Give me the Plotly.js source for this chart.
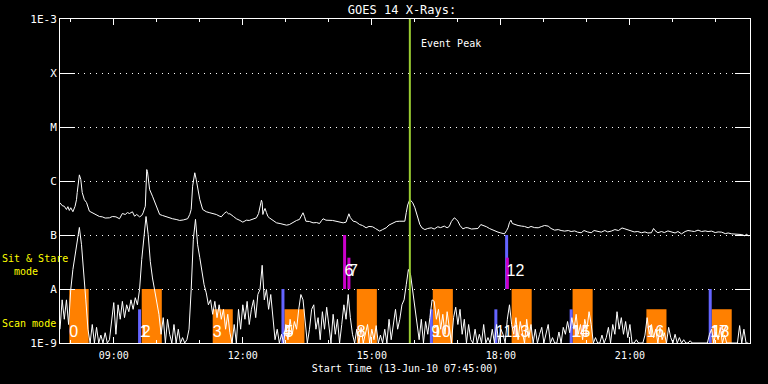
<!DOCTYPE html>
<html><head><meta charset="utf-8">
<script src="https://cdn.plot.ly/plotly-3.0.1.min.js"></script>
<style>html,body{margin:0;padding:0;background:#000;}#chart{width:768px;height:384px;}</style>
</head><body><div id="chart"></div>
<script>
// ---------------- DATA ----------------
const obsDate = '2010-06-13';
const rangeStart = '07:45';
const rangeEnd = '23:47:30';
const peakTime = '15:53';

// Y-axis ticks (GOES class letters)
const yTickVals = [1e-9, 1e-8, 1e-7, 1e-6, 1e-5, 1e-4, 1e-3];
const yTickText = ['1E-9', 'A', 'B', 'C', 'M', 'X', '1E-3'];

// Long channel (upper curve), flux W/m^2
const longTimes = [
 '07:45','07:48','07:51','07:54','07:56','07:58',
 '08:00','08:03','08:06','08:08','08:09','08:11','08:12','08:14','08:16','08:19','08:22','08:26','08:30','08:36','08:40','08:44','08:48','08:54','08:58',
 '09:03','09:06','09:08','09:12','09:16','09:19','09:22','09:26','09:29','09:32','09:36','09:39','09:41','09:44','09:45','09:46','09:47','09:49','09:50','09:54','09:57','09:59',
 '10:02','10:04','10:08','10:13','10:17','10:22','10:27','10:32','10:37','10:43','10:46','10:48','10:50','10:52','10:53','10:55','10:58',
 '11:00','11:04','11:09','11:14','11:18','11:23','11:27','11:30','11:34','11:37','11:40','11:42','11:47','11:51','11:56',
 '12:00','12:03','12:05','12:09','12:12','12:16','12:19','12:22','12:25','12:26','12:27','12:28','12:29','12:31','12:33','12:35','12:37','12:42','12:47','12:52','12:56',
 '13:01','13:05','13:10','13:15','13:19','13:22','13:24','13:26','13:28','13:33','13:38','13:43','13:47','13:50','13:52','13:56',
 '14:01','14:05','14:10','14:15','14:20','14:24','14:26','14:28','14:30','14:34','14:38','14:43','14:47','14:52','14:56',
 '15:01','15:05','15:11','15:15','15:20','15:24','15:29','15:34','15:39','15:43','15:46','15:48','15:50','15:53','15:55','15:57',
 '16:00','16:02','16:05','16:07','16:10','16:14','16:18','16:23','16:27','16:32','16:36','16:41','16:45','16:48','16:51','16:55','16:58',
 '17:00','17:03','17:07','17:11','17:14','17:19','17:23','17:28','17:32','17:36','17:40','17:44','17:47','17:52','17:56',
 '18:00','18:05','18:08','18:10','18:12','18:14','18:16','18:19','18:24','18:29','18:33','18:38','18:42','18:47','18:52','18:57',
 '19:01','19:06','19:10','19:15','19:20','19:24','19:29','19:34','19:38','19:43','19:47','19:52','19:56',
 '20:01','20:06','20:10','20:15','20:20','20:25','20:29','20:34','20:39','20:44','20:49','20:53','20:57',
 '21:02','21:06','21:11','21:16','21:21','21:25','21:30','21:33','21:35','21:39','21:44','21:48','21:53','21:58',
 '22:03','22:07','22:12','22:17','22:21','22:26','22:30','22:35','22:40','22:45','22:49','22:54','22:59',
 '23:03','23:08','23:13','23:17','23:22','23:27','23:31','23:36','23:40','23:43','23:45'
];
const longFlux = [
 3.95e-7,3.5e-7,3.4e-7,2.97e-7,3.35e-7,2.85e-7,
 3.2e-7,2.7e-7,3.4e-7,4.5e-7,6.1e-7,1.2e-6,1.3e-6,1.07e-6,6.1e-7,4.5e-7,4.0e-7,2.76e-7,2.6e-7,2.4e-7,2.2e-7,2.17e-7,2.06e-7,2.08e-7,2.2e-7,
 2.17e-7,2.1e-7,2.0e-7,2.5e-7,2.4e-7,2.6e-7,2.5e-7,2.69e-7,2.23e-7,2.4e-7,2.17e-7,2.3e-7,2.58e-7,3.41e-7,8.6e-7,1.63e-6,1.5e-6,8.6e-7,6.96e-7,5.23e-7,4.1e-7,3.41e-7,
 2.85e-7,2.4e-7,2.3e-7,2.17e-7,2.1e-7,2.0e-7,1.94e-7,1.86e-7,1.9e-7,2.0e-7,2.4e-7,2.97e-7,8.0e-7,1.42e-6,1.42e-6,1.07e-6,6.4e-7,
 4.54e-7,2.97e-7,2.7e-7,2.58e-7,2.5e-7,2.4e-7,2.25e-7,2.17e-7,2.5e-7,2.69e-7,2.47e-7,2.47e-7,2.2e-7,2.0e-7,1.86e-7,
 1.73e-7,1.82e-7,1.88e-7,1.86e-7,1.94e-7,2.0e-7,2.08e-7,2.5e-7,4.0e-7,4.41e-7,4.0e-7,2.4e-7,2.7e-7,3.1e-7,2.6e-7,2.2e-7,2.08e-7,1.86e-7,1.68e-7,1.63e-7,1.56e-7,
 1.52e-7,1.56e-7,1.73e-7,1.86e-7,1.94e-7,2.3e-7,2.58e-7,2.2e-7,1.8e-7,1.78e-7,1.68e-7,1.7e-7,1.63e-7,1.86e-7,2.0e-7,1.88e-7,
 1.88e-7,1.86e-7,1.8e-7,1.75e-7,1.68e-7,1.73e-7,2.0e-7,2.47e-7,2.1e-7,1.8e-7,1.75e-7,1.56e-7,1.5e-7,1.36e-7,1.44e-7,
 1.42e-7,1.32e-7,1.18e-7,1.26e-7,1.36e-7,1.53e-7,1.68e-7,1.78e-7,1.8e-7,1.78e-7,1.8e-7,2.6e-7,3.6e-7,4.54e-7,4.3e-7,3.95e-7,
 3.2e-7,2.58e-7,1.94e-7,1.56e-7,1.35e-7,1.26e-7,1.32e-7,1.36e-7,1.29e-7,1.42e-7,1.37e-7,1.46e-7,1.36e-7,1.44e-7,1.78e-7,2.08e-7,1.94e-7,
 1.8e-7,1.5e-7,1.3e-7,1.37e-7,1.36e-7,1.29e-7,1.3e-7,1.32e-7,1.56e-7,1.5e-7,1.42e-7,1.32e-7,1.26e-7,1.19e-7,1.13e-7,
 1.09e-7,1.05e-7,1.21e-7,1.36e-7,1.7e-7,1.88e-7,1.63e-7,1.56e-7,1.5e-7,1.46e-7,1.44e-7,1.36e-7,1.44e-7,1.37e-7,1.36e-7,1.44e-7,
 1.5e-7,1.46e-7,1.32e-7,1.23e-7,1.26e-7,1.21e-7,1.18e-7,1.21e-7,1.16e-7,1.19e-7,1.13e-7,1.1e-7,1.21e-7,
 1.14e-7,1.1e-7,1.21e-7,1.16e-7,1.13e-7,1.21e-7,1.14e-7,1.18e-7,1.26e-7,1.21e-7,1.35e-7,1.3e-7,1.24e-7,
 1.18e-7,1.14e-7,1.16e-7,1.1e-7,1.14e-7,1.09e-7,1.1e-7,1.32e-7,1.21e-7,1.1e-7,1.16e-7,1.11e-7,1.19e-7,1.13e-7,
 1.09e-7,1.16e-7,1.05e-7,1.16e-7,1.21e-7,1.18e-7,1.16e-7,1.23e-7,1.16e-7,1.19e-7,1.16e-7,1.18e-7,1.11e-7,
 1.14e-7,1.13e-7,1.06e-7,1.09e-7,1.05e-7,1.04e-7,1.05e-7,1.02e-7,9.7e-8,1.04e-7,9.5e-8
];

// Short channel (lower curve), sampled every 3 minutes from 07:45
const shortStart = '07:45';
const shortCadenceMin = 3;
const shortFlux = [
 1.8e-9,6.3e-9,2.75e-9,6.3e-9,2.2e-9,9.8e-9,2.3e-8,4.4e-8,8.3e-8,1.38e-7,6.6e-8,2.3e-8,6.3e-9,1.8e-9,1e-9,2.2e-9,1e-9,1.95e-9,1e-9,1.4e-9,
 1e-9,1.55e-9,1e-9,1.15e-9,2.75e-9,5.6e-9,1.45e-9,5.1e-9,2.75e-9,5.9e-9,2.95e-9,5.1e-9,3.8e-9,6.3e-9,4.2e-9,6.9e-9,5.1e-9,9.8e-9,3.5e-8,1.02e-7,
 2.2e-7,1.02e-7,3.2e-8,1.6e-8,9.8e-9,5.1e-9,3.4e-9,1.45e-9,2.95e-9,1e-9,2.75e-9,1.45e-9,1e-9,2.2e-9,1e-9,1.8e-9,1e-9,1.26e-9,1e-9,1.15e-9,
 1.8e-9,9.8e-9,8.3e-8,1.95e-7,6.6e-8,3.8e-8,2.1e-8,1.2e-8,8.5e-9,5.1e-9,6.3e-9,3.4e-9,5.9e-9,2.95e-9,5.1e-9,2.75e-9,4.2e-9,1.8e-9,3.4e-9,1.55e-9,
 1e-9,2.2e-9,1e-9,4.2e-9,1.8e-9,5.1e-9,2.75e-9,5.9e-9,2.2e-9,4.2e-9,6.3e-9,2.95e-9,7.9e-9,9.8e-9,2.75e-8,6.3e-9,9.8e-9,4.2e-9,7.9e-9,3.4e-9,
 1.15e-9,1.8e-9,1e-9,1.45e-9,1e-9,2.2e-9,1.15e-9,2.75e-9,1.45e-9,2.5e-9,1.8e-9,4.2e-9,7.9e-9,6.3e-9,2.2e-9,1e-9,1.8e-9,4.2e-9,5.1e-9,1.8e-9,
 2.95e-9,1.15e-9,3.8e-9,1.8e-9,4.6e-9,2.2e-9,1e-9,3.4e-9,1.45e-9,2.75e-9,1e-9,2.2e-9,5.1e-9,2.75e-9,7.9e-9,2.95e-9,1.45e-9,1e-9,1.8e-9,1e-9,
 1.95e-9,1e-9,1.45e-9,2.2e-9,1e-9,1.8e-9,1.15e-9,2.1e-9,1e-9,1.4e-9,1e-9,1.8e-9,1e-9,2.75e-9,1.15e-9,2.2e-9,4.2e-9,1.8e-9,2.75e-9,5.1e-9,
 6.3e-9,1.2e-8,2.3e-8,1.85e-8,8.9e-9,4.2e-9,2.2e-9,1.15e-9,2.75e-9,1e-9,2.5e-9,1.45e-9,2.95e-9,6.3e-9,5.9e-9,2.75e-9,4.2e-9,1.8e-9,3.4e-9,1.45e-9,
 3.8e-9,1.8e-9,1e-9,2.95e-9,4.6e-9,2.2e-9,4.2e-9,1.45e-9,2.75e-9,1e-9,2.2e-9,1.15e-9,1e-9,1.8e-9,1e-9,1.45e-9,1e-9,2.2e-9,1e-9,1.26e-9,
 1e-9,1.8e-9,1e-9,2.2e-9,1e-9,1.8e-9,1.45e-9,1e-9,2.75e-9,5.1e-9,2.2e-9,1.45e-9,2.95e-9,1.15e-9,2.5e-9,1.55e-9,1e-9,2.75e-9,1.26e-9,2.2e-9,
 1e-9,1.8e-9,1e-9,1.45e-9,1.95e-9,1e-9,1.6e-9,2.2e-9,1e-9,1.26e-9,1e-9,1e-9,1.6e-9,1e-9,1.95e-9,1.45e-9,2.5e-9,1.55e-9,2.95e-9,1.8e-9,
 3.4e-9,1.45e-9,2.2e-9,1.15e-9,2.75e-9,1.8e-9,3.8e-9,2.2e-9,1e-9,1.26e-9,1e-9,1e-9,1.4e-9,1e-9,1.26e-9,1.95e-9,1e-9,2.2e-9,1.45e-9,3.8e-9,
 1.8e-9,2.95e-9,1.45e-9,2.5e-9,1.26e-9,2.2e-9,1e-9,1e-9,1.15e-9,1e-9,1e-9,1e-9,1.4e-9,2.95e-9,1.45e-9,2.2e-9,1.26e-9,1.8e-9,1e-9,1.95e-9,
 1.15e-9,1.55e-9,1e-9,1.95e-9,1.26e-9,1e-9,1.45e-9,1e-9,1.26e-9,1e-9,1.15e-9,1e-9,1e-9,1.1e-9,1e-9,1e-9,1e-9,1e-9,1e-9,1e-9,
 1e-9,1e-9,1.45e-9,1.8e-9,1e-9,1.6e-9,1.15e-9,1.95e-9,1e-9,1.4e-9,1e-9,1e-9,1e-9,1e-9,1e-9,1e-9,2.1e-9,1e-9,1.8e-9,1e-9,1e-9
];

// Scan-mode rasters (orange blocks)
const rasterIds   = ['0','2','3','5','8','10','13','15','16','18'];
const rasterStart = ['07:58','09:39','11:18','12:58','14:39','16:25','18:15','19:40','21:23','22:54'];
const rasterEnd   = ['08:25','10:07','11:46','13:26','15:07','16:53','18:43','20:08','21:51','23:22'];
const rasterFull  = [1,1,0,0,1,1,1,1,0,0];

// Scan-mode short events (blue markers)
const scanTickIds  = ['1','4','9','11','14','17'];
const scanTickTime = ['09:36','12:56','16:23','17:53','19:38','22:52'];
const scanTickFull = [0,1,0,0,0,1];

// Sit & stare events
const stareIds      = ['6','7','12'];
const stareTime     = ['14:22','14:28','18:09'];
const stareFull     = [1,0,0];
const stareBlueTime = ['18:08'];

// ---------------- STYLE ----------------
const FLOOR = 1e-9, LEVEL_A = 1e-8, LEVEL_B = 1e-7;
const SCAN_HALF = 4.2e-9, STARE_HALF = 3.8e-8;
const SCAN_LABEL_Y = 1.55e-9, STARE_LABEL_Y = 2.1e-8;
const ORANGE = '#ff8000', BLUE = '#6464ff', MAGENTA = '#cc00cc', GREEN = '#9acd32';
const MONO = 'DejaVu Sans Mono';

const T = s => obsDate + ' ' + s;
const pad = n => String(n).padStart(2, '0');
function minToTime(m) { return obsDate + ' ' + pad(Math.floor(m / 60)) + ':' + pad(m % 60); }
const [sh, sm] = shortStart.split(':').map(Number);
const shortTimes = shortFlux.map((_, i) => minToTime(sh * 60 + sm + i * shortCadenceMin));

// rasters polygons
const rx = [], ry = [];
rasterStart.forEach((s, i) => {
  const top = rasterFull[i] ? LEVEL_A : SCAN_HALF;
  rx.push(T(s), T(s), T(rasterEnd[i]), T(rasterEnd[i]), T(s), null);
  ry.push(FLOOR, top, top, FLOOR, FLOOR, null);
});
// blue scan ticks
const bx = [], by = [];
scanTickTime.forEach((t, i) => {
  bx.push(T(t), T(t), null);
  by.push(FLOOR, scanTickFull[i] ? LEVEL_A : SCAN_HALF, null);
});
stareBlueTime.forEach(t => { bx.push(T(t), T(t), null); by.push(LEVEL_A, LEVEL_B, null); });
// magenta stare ticks
const mx = [], my = [];
stareTime.forEach((t, i) => {
  mx.push(T(t), T(t), null);
  my.push(LEVEL_A, stareFull[i] ? LEVEL_B : STARE_HALF, null);
});

// labels
const scanLabelIds = rasterIds.concat(scanTickIds);
const scanLabelTimes = rasterStart.concat(scanTickTime);
const stareLabelTimes = stareTime.slice(); stareLabelTimes[2] = stareBlueTime[0];

const traces = [
  {x: rx, y: ry, mode: 'lines', fill: 'toself', fillcolor: ORANGE, line: {width: 0, color: ORANGE}, hoverinfo: 'skip'},
  {x: bx, y: by, mode: 'lines', line: {width: 3, color: BLUE}, hoverinfo: 'skip'},
  {x: mx, y: my, mode: 'lines', line: {width: 3, color: MAGENTA}, hoverinfo: 'skip'},
  {x: shortTimes, y: shortFlux, mode: 'lines', line: {width: 1, color: '#ffffff'}, name: '0.5-4 Å'},
  {x: longTimes.map(T), y: longFlux, mode: 'lines', line: {width: 1, color: '#ffffff'}, name: '1-8 Å'},
  {x: [T(peakTime), T(peakTime)], y: [FLOOR, 1e-3], mode: 'lines', line: {width: 2, color: GREEN}, hoverinfo: 'skip'},
  {x: scanLabelTimes.map(T), y: scanLabelTimes.map(() => SCAN_LABEL_Y), text: scanLabelIds, mode: 'text',
   textposition: 'middle right', textfont: {family: 'Liberation Sans', size: 16, color: '#ffffff'}, cliponaxis: false, hoverinfo: 'skip'},
  {x: stareLabelTimes.map(T), y: stareLabelTimes.map(() => STARE_LABEL_Y), text: stareIds, mode: 'text',
   textposition: 'middle right', textfont: {family: 'Liberation Sans', size: 16, color: '#ffffff'}, cliponaxis: false, hoverinfo: 'skip'}
];

const layout = {
  width: 768, height: 384,
  margin: {l: 60, r: 18, t: 19, b: 41},
  paper_bgcolor: '#000000', plot_bgcolor: '#000000',
  showlegend: false, hovermode: false,
  font: {family: MONO, color: '#ffffff', size: 10},
  title: {text: 'GOES 14 X-Rays:', font: {family: MONO, size: 12, color: '#ffffff'},
          x: 0.5235, xref: 'container', y: 1 - 9.5 / 384, yref: 'container', xanchor: 'center', yanchor: 'middle'},
  xaxis: {
    type: 'date', range: [T(rangeStart), T(rangeEnd)],
    tick0: obsDate + ' 00:00', dtick: 3 * 3600000, tickformat: '%H:%M',
    ticks: 'inside', ticklen: 6, tickcolor: '#ffffff', tickwidth: 1,
    minor: {dtick: 3600000, ticks: 'inside', ticklen: 3, tickcolor: '#ffffff', showgrid: false},
    showline: true, linecolor: '#ffffff', linewidth: 1, mirror: 'ticks',
    showgrid: false, zeroline: false, ticklabelstandoff: 3,
    tickfont: {family: MONO, size: 10, color: '#ffffff'},
    title: {text: 'Start Time (13-Jun-10 07:45:00)', font: {family: MONO, size: 10, color: '#ffffff'}, standoff: 4}
  },
  yaxis: {
    type: 'log', range: [-9, -3],
    tickvals: yTickVals, ticktext: yTickText,
    ticks: 'inside', ticklen: 15, tickcolor: '#ffffff', tickwidth: 1,
    showline: true, linecolor: '#ffffff', linewidth: 1, mirror: 'ticks',
    showgrid: true, gridcolor: '#ffffff', gridwidth: 1, griddash: '1px,5px', zeroline: false,
    tickfont: {family: MONO, size: 11, color: '#ffffff'}
  },
  annotations: [
    {text: 'Event Peak', x: T(peakTime), xref: 'x', xanchor: 'left', xshift: 9, y: 1 - (43 - 19) / 324, yref: 'paper', yanchor: 'middle',
     showarrow: false, font: {family: MONO, size: 10, color: '#ffffff'}},
    {text: 'Sit & Stare', x: -60 / 690, xref: 'paper', xanchor: 'left', y: 1 - (258 - 19) / 324, yref: 'paper', yanchor: 'middle',
     showarrow: false, font: {family: MONO, size: 10, color: '#ffff00'}},
    {text: 'mode', x: -48 / 690, xref: 'paper', xanchor: 'left', y: 1 - (271 - 19) / 324, yref: 'paper', yanchor: 'middle',
     showarrow: false, font: {family: MONO, size: 10, color: '#ffff00'}},
    {text: 'Scan mode', x: -60 / 690, xref: 'paper', xanchor: 'left', y: 1 - (323 - 19) / 324, yref: 'paper', yanchor: 'middle',
     showarrow: false, font: {family: MONO, size: 10, color: '#ffff00'}}
  ]
};

Plotly.newPlot('chart', traces, layout, {displayModeBar: false, staticPlot: true});
</script>
</body></html>
